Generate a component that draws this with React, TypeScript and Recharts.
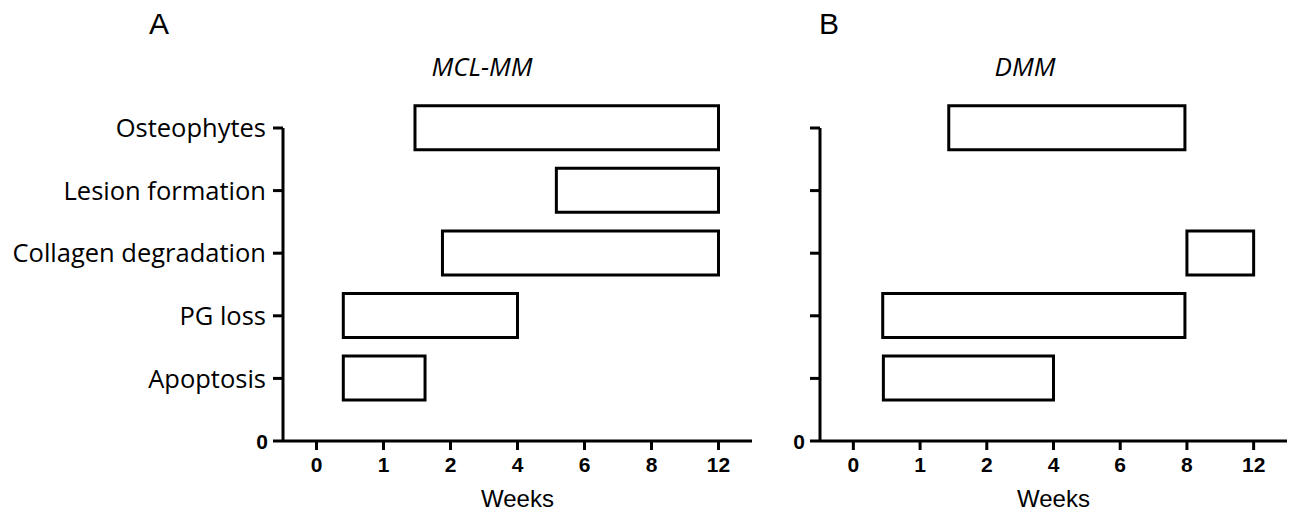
import { BarChart, Bar, XAxis, YAxis } from 'recharts'

const categories = ['Apoptosis', 'PG loss', 'Collagen degradation', 'Lesion formation', 'Osteophytes']
const categoryPos = [1, 2, 3, 4, 5]
const weekTicks = ['0', '1', '2', '4', '6', '8', '12']

// bar start / end measured in tick slots (0 = week 0 ... 6 = week 12)
const mclStart = [0.4, 0.4, 1.88, 3.58, 1.47]
const mclEnd = [1.62, 3.0, 6.0, 6.0, 6.0]
const dmmStart = [0.45, 0.44, 5.0, null, 1.43]
const dmmEnd = [3.0, 4.97, 6.0, null, 4.97]

const buildRows = (start: (number | null)[], end: (number | null)[]) =>
  categories
    .map((name, i) => ({ name, pos: categoryPos[i], range: start[i] == null ? null : [start[i], end[i]] }))
    .filter((r) => r.range != null)

const mclRows = buildRows(mclStart, mclEnd)
const dmmRows = buildRows(dmmStart, dmmEnd)

const axisStroke = { stroke: '#000', strokeWidth: 3 }

function YTick(props: any) {
  const { x, y, payload, showNames } = props
  const v = payload.value
  if (v === 0) {
    return (
      <text x={x + 2} y={y} dy="0.36em" textAnchor="end" fontFamily="Liberation Sans" fontWeight="bold" fontSize={21} fill="#000">
        0
      </text>
    )
  }
  if (!showNames) return null
  return (
    <text x={x} y={y} dy="0.36em" textAnchor="end" fontFamily="Open Sans" fontSize={25.5} fill="#000">
      {categories[categoryPos.indexOf(v)]}
    </text>
  )
}

function Panel({ rows, width, yWidth, right, showNames }: any) {
  return (
    <BarChart width={width} height={512} data={rows} layout="vertical" margin={{ top: 128, right, bottom: 0, left: 0 }}>
      <XAxis
        type="number"
        dataKey="range"
        domain={[-0.5, 6.5]}
        ticks={[0, 1, 2, 3, 4, 5, 6]}
        interval={0}
        height={71}
        tickSize={9}
        tickMargin={7}
        axisLine={axisStroke}
        tickLine={axisStroke}
        tickFormatter={(i: number) => weekTicks[i]}
        tick={{ fill: '#000', fontFamily: 'Liberation Sans', fontWeight: 'bold', fontSize: 21 }}
        label={{ value: 'Weeks', position: 'insideBottom', offset: 5, fill: '#000', fontFamily: 'Liberation Sans', fontSize: 24 }}
      />
      <YAxis
        type="number"
        dataKey="pos"
        domain={[0, 5]}
        ticks={[0, 1, 2, 3, 4, 5]}
        interval={0}
        reversed
        width={yWidth}
        tickSize={10}
        tickMargin={7}
        axisLine={axisStroke}
        tickLine={axisStroke}
        tick={<YTick showNames={showNames} />}
      />
      <Bar dataKey="range" barSize={44} fill="#fff" stroke="#000" strokeWidth={3} isAnimationActive={false} />
    </BarChart>
  )
}

const heading = { position: 'absolute' as const, fontFamily: 'Liberation Sans', fontSize: 30, lineHeight: '30px', color: '#000' }
const title = { position: 'absolute' as const, fontFamily: 'Open Sans', fontStyle: 'italic', fontSize: 26, lineHeight: '26px', color: '#000', transform: 'translateX(-50%)' }

export default function App() {
  return (
    <div style={{ position: 'absolute', left: 0, top: 0, width: 1295, height: 512, background: '#fff' }}>
      <div style={{ position: 'absolute', left: 0, top: 0 }}>
        <Panel rows={mclRows} width={770} yWidth={283} right={18} showNames />
      </div>
      <div style={{ position: 'absolute', left: 780, top: 0 }}>
        <Panel rows={dmmRows} width={515} yWidth={40} right={8} showNames={false} />
      </div>
      <div style={{ ...heading, left: 149, top: 9 }}>A</div>
      <div style={{ ...heading, left: 819, top: 9 }}>B</div>
      <div style={{ ...title, left: 482, top: 53 }}>MCL-MM</div>
      <div style={{ ...title, left: 1025, top: 53 }}>DMM</div>
    </div>
  )
}
